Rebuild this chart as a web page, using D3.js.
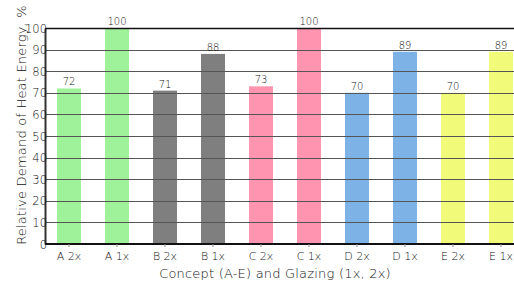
<!DOCTYPE html>
<html>
<head>
<meta charset="utf-8">
<script src="https://cdn.jsdelivr.net/npm/d3@7"></script>
<style>
  body { margin: 0; background: #fff; }
  text { font-family: "DejaVu Sans", sans-serif; font-weight: 200; fill: #111; }
</style>
</head>
<body>
<div class="container"></div>
<script>
const categories = ["A 2x", "A 1x", "B 2x", "B 1x", "C 2x", "C 1x", "D 2x", "D 1x", "E 2x", "E 1x"];
const values = [72, 100, 71, 88, 73, 100, 70, 89, 70, 89];
const colors = ["#a0f29a", "#a0f29a", "#7f7f7f", "#7f7f7f", "#ff94b0", "#ff94b0", "#7db2e6", "#7db2e6", "#f2fa7a", "#f2fa7a"];
const yTicks = [0, 10, 20, 30, 40, 50, 60, 70, 80, 90, 100];

const WIDTH = 514;
const HEIGHT = 282;
const LEFT = 45, TOP = 28, BOTTOM = 244;

var svg = d3.select('.container').append('svg')
    .attr('width', WIDTH)
    .attr('height', HEIGHT);

var xScale = d3.scaleBand()
    .domain(categories)
    .range([LEFT, LEFT + 48 * categories.length])
    .paddingInner(0.5)
    .paddingOuter(0.25);

var yScale = d3.scaleLinear()
    .domain([0, 100])
    .range([BOTTOM, TOP]);

// bars
svg.append('g').selectAll('rect')
    .data(values)
    .enter()
    .append('rect')
    .attr('x', function(d, i) { return xScale(categories[i]); })
    .attr('y', function(d) { return yScale(d); })
    .attr('width', xScale.bandwidth())
    .attr('height', function(d) { return BOTTOM - yScale(d); })
    .attr('fill', function(d, i) { return colors[i]; });

// grid lines over the bars
svg.append('g').selectAll('line')
    .data(yTicks.slice(1))
    .enter()
    .append('line')
    .attr('x1', LEFT)
    .attr('x2', WIDTH)
    .attr('y1', function(d) { return Math.round(yScale(d)) + 0.5; })
    .attr('y2', function(d) { return Math.round(yScale(d)) + 0.5; })
    .attr('stroke', function(d) { return d === 100 ? '#111' : '#555'; })
    .attr('stroke-width', function(d) { return d === 100 ? 1.5 : 1; });

// value labels
svg.append('g').selectAll('text')
    .data(values)
    .enter()
    .append('text')
    .attr('x', function(d, i) { return xScale(categories[i]) + xScale.bandwidth() / 2; })
    .attr('y', function(d) { return yScale(d) - 3; })
    .attr('text-anchor', 'middle')
    .style('font-size', '10px')
    .text(function(d) { return d; });

// y axis
var yAxis = svg.append('g')
    .attr('transform', 'translate(' + LEFT + ',0)')
    .call(d3.axisLeft(yScale).tickValues(yTicks).tickSize(0).tickPadding(-2));
yAxis.select('.domain').attr('stroke', '#333').attr('stroke-width', 2);
yAxis.selectAll('text').style('font-size', '11.5px').attr('fill', '#111').attr('dy', '0.36em');

// x axis
var xAxis = svg.append('g')
    .attr('transform', 'translate(0,' + BOTTOM + ')')
    .call(d3.axisBottom(xScale).tickSize(3).tickPadding(5));
xAxis.select('.domain').attr('d', 'M' + LEFT + ',0H' + WIDTH).attr('stroke', '#111').attr('stroke-width', 2);
xAxis.selectAll('line').attr('stroke', '#888');
xAxis.selectAll('text').style('font-size', '11px').attr('fill', '#111');

// titles
svg.append('text')
    .attr('x', 275)
    .attr('y', 278)
    .attr('text-anchor', 'middle')
    .style('font-size', '13px')
    .style('letter-spacing', '0.2px')
    .text('Concept (A-E) and Glazing (1x, 2x)');

svg.append('text')
    .attr('transform', 'translate(26,125) rotate(-90)')
    .attr('text-anchor', 'middle')
    .style('font-size', '13px')
    .style('letter-spacing', '0.2px')
    .text('Relative Demand of Heat Energy, %');
</script>
</body>
</html>
